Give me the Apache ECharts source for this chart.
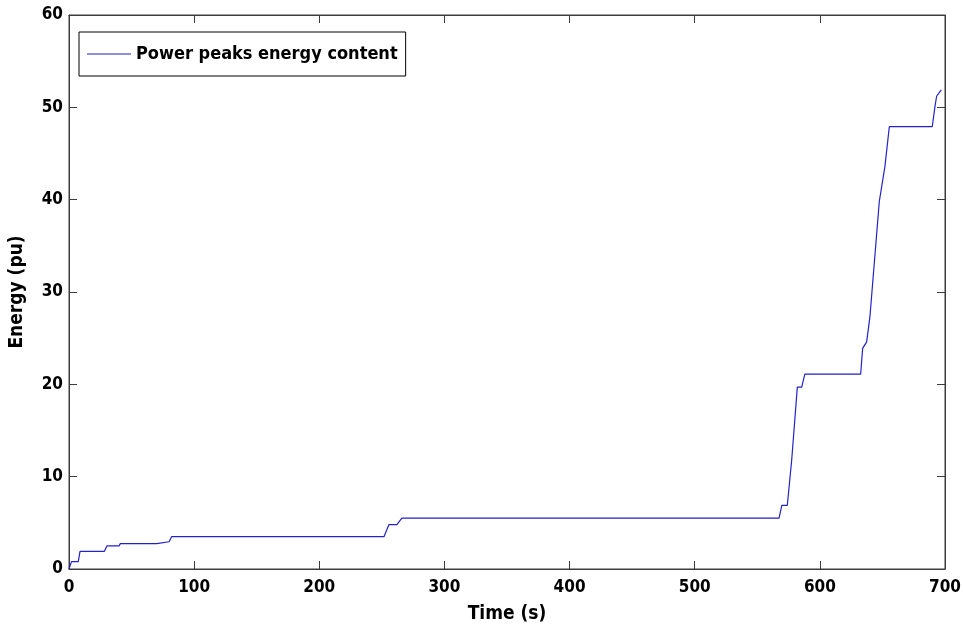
<!DOCTYPE html>
<html>
<head>
<meta charset="utf-8">
<script src="https://cdn.jsdelivr.net/npm/echarts@6/dist/echarts.min.js"></script>
<style>
  html, body { margin: 0; padding: 0; background: #fff; }
  #chart { width: 964px; height: 630px; }
</style>
</head>
<body>
<div id="chart"></div>
<script>
// Time samples (s) and cumulative energy (pu)
const timeValues = [0, 2, 7.4, 8.8, 28.2, 30.3, 40, 41, 70.2, 71, 80, 82,
  251.7, 255.6, 262, 266, 567.4, 569.6, 574, 577.5, 582, 585.5, 588,
  632.6, 634.2, 637.4, 640, 647.5, 652, 655.5, 689.8, 692, 693.3, 697]
const energyValues = [0, 0.8, 0.8, 1.9, 1.9, 2.5, 2.5, 2.75, 2.75, 2.95, 2.95, 3.5,
  3.5, 4.8, 4.8, 5.5, 5.5, 6.9, 6.9, 11.8, 19.7, 19.7, 21.1,
  21.1, 23.9, 24.6, 27.3, 39.8, 43.6, 47.9, 47.9, 50.1, 51.2, 51.9]

const seriesName = 'Power peaks energy content'
const xTitle = 'Time (s)'
const yTitle = 'Energy (pu)'

// condensed bold face, closest thing to the original narrow font
const FONT = '"DejaVu Sans", sans-serif'
const STRETCH = 'condensed'
const frameColor = '#3c3c3c'
const lineColor = '#2222c8'

const points = timeValues.map((t, i) => [t, energyValues[i]])

// MATLAB-style box: inward ticks on every side
const tickStyle = { show: true, inside: true, length: 8, lineStyle: { color: frameColor, width: 1 } }
const labelStyle = { color: '#000', fontFamily: FONT, fontStyle: STRETCH, fontWeight: 'bold', fontSize: 17 }
const nameStyle = { color: '#000', fontFamily: FONT, fontStyle: STRETCH, fontWeight: 'bold', fontSize: 19 }
// onZero off, otherwise the mirror axes get pulled onto the bottom/left edges
const frameLine = { show: true, onZero: false, lineStyle: { color: frameColor, width: 1 } }

const chart = echarts.init(document.getElementById('chart'), null, { renderer: 'canvas' })

chart.setOption({
  animation: false,
  backgroundColor: '#fff',
  grid: {
    left: 68, right: 19, top: 15, bottom: 61,
    show: true, borderColor: frameColor, borderWidth: 1, backgroundColor: '#fff'
  },
  legend: {
    left: 79, top: 32,
    orient: 'horizontal',
    padding: [9, 8, 9, 8],
    borderColor: '#000', borderWidth: 1, borderRadius: 0,
    backgroundColor: '#fff',
    icon: 'rect',
    itemWidth: 44, itemHeight: 1.2, itemGap: 4,
    itemStyle: { color: lineColor },
    textStyle: { color: '#000', fontFamily: FONT, fontStyle: STRETCH, fontWeight: 'bold', fontSize: 18, lineHeight: 26 },
    data: [seriesName]
  },
  xAxis: [
    {
      type: 'value', gridIndex: 0, min: 0, max: 700, interval: 100, position: 'bottom',
      name: xTitle, nameLocation: 'middle', nameGap: 36, nameTextStyle: nameStyle,
      axisLine: frameLine,
      axisTick: tickStyle,
      axisLabel: { ...labelStyle, margin: 10 },
      splitLine: { show: false }
    },
    {
      type: 'value', gridIndex: 0, min: 0, max: 700, interval: 100, position: 'top',
      axisLine: frameLine, axisTick: tickStyle,
      axisLabel: { show: false }, splitLine: { show: false }
    }
  ],
  yAxis: [
    {
      type: 'value', gridIndex: 0, min: 0, max: 60, interval: 10, position: 'left',
      name: yTitle, nameLocation: 'middle', nameGap: 42, nameTextStyle: nameStyle,
      axisLine: frameLine,
      axisTick: tickStyle,
      axisLabel: { ...labelStyle, margin: 6 },
      splitLine: { show: false }
    },
    {
      type: 'value', gridIndex: 0, min: 0, max: 60, interval: 10, position: 'right',
      axisLine: frameLine, axisTick: tickStyle,
      axisLabel: { show: false }, splitLine: { show: false }
    }
  ],
  series: [
    {
      name: seriesName,
      type: 'line',
      xAxisIndex: 0,
      yAxisIndex: 0,
      data: points,
      symbol: 'none',
      lineStyle: { color: lineColor, width: 1.2 },
      itemStyle: { color: lineColor }
    }
  ]
})
</script>
</body>
</html>
